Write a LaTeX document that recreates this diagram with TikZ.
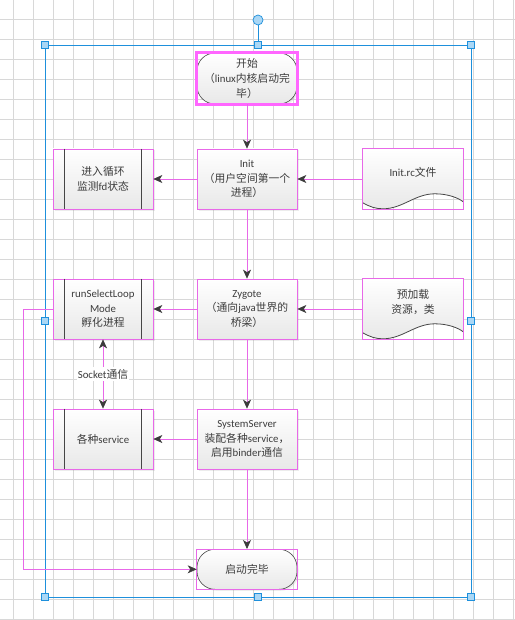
\documentclass[tikz,border=0pt]{standalone}
\usepackage{fontspec}
\setmainfont{Noto Sans CJK SC}
\newfontfamily\latf{Carlito}
\newcommand\lat[1]{{\latf #1}}
\usetikzlibrary{arrows.meta,shadows,calc}
\definecolor{selm}{RGB}{232,104,232}
\definecolor{selbright}{RGB}{255,102,255}
\definecolor{gridc}{RGB}{216,216,216}
\definecolor{txt}{RGB}{60,60,60}
\definecolor{tipc}{RGB}{60,60,60}
\definecolor{selblue}{RGB}{30,144,220}
\definecolor{handlef}{RGB}{170,215,245}
\definecolor{shapeline}{RGB}{70,70,70}
\begin{document}
\begin{tikzpicture}[x=1bp,y=-1bp,
  every node/.style={font=\fontsize{10.8bp}{14.7bp}\selectfont, text=txt, align=center, inner sep=0pt},
  shadowed/.style={drop shadow={shadow xshift=1.5bp,shadow yshift=-1.5bp,opacity=0.15}},
  box/.style={minimum width=100bp, minimum height=60bp, draw=selm, line width=0.7bp,
    top color=white, bottom color=black!9, shadowed},
  term/.style={minimum width=100bp, rounded corners=18bp, draw=shapeline, line width=0.6bp,
    top color=white, bottom color=black!9, shadowed},
  docbox/.style={minimum width=100bp, minimum height=60bp},
  tipx/.tip={Stealth[length=9bp,width=8bp,inset=2.5bp,color=tipc]},
  conn/.style={draw=selm, line width=0.7bp, -tipx},
  dconn/.style={draw=selm, line width=0.7bp, tipx-tipx},
  gridl/.style={draw=gridc, line width=0.55bp},
  selline/.style={draw=selblue, line width=0.8bp},
  handle/.style={draw=selblue, fill=handlef, line width=0.7bp}
]
\useasboundingbox (0,0) rectangle (515,620);
\fill[white] (0,0) rectangle (515,620);
% grid
\foreach \k in {0,...,25} \draw[gridl] (13.3+20*\k,0) -- (13.3+20*\k,620);
\foreach \k in {0,...,30} \draw[gridl] (0,19.3+20*\k) -- (515,19.3+20*\k);
% selection box
\draw[selline] (45,45) rectangle (471,597);
\draw[selline] (258,25) -- (258,45);

% nodes
\node[term, minimum height=51bp] (start) at (247,78.5) {开始\\（\lat{linux}内核启动完\\毕）};
\node[box] (init) at (247,179) {\lat{Init}\\（用户空间第一个\\进程）};
\node[box] (loop1) at (103,179) {进入循环\\监测\lat{fd}状态};
\node[docbox] (rc) at (413,179) {};
\node[box] (zyg) at (247,309) {\lat{Zygote}\\（通向\lat{java}世界的\\桥梁）};
\node[box] (rsl) at (103,309) {\lat{runSelectLoop}\\\lat{Mode}\\孵化进程};
\node[docbox] (pre) at (413,309) {};
\node[box] (ss) at (247,439) {\lat{SystemServer}\\装配各种\lat{service}，\\启用\lat{binder}通信};
\node[box] (svc) at (103,439) {各种\lat{service}};
\node[term, minimum height=40bp] (end) at (247,569.3) {启动完毕};

% document shapes
\foreach \d in {rc,pre}{
  \shade[top color=white,bottom color=black!9]
    (\d.north west) -- (\d.north east) -- ($(\d.north east)+(0,53)$)
    .. controls +(-5,-4) and +(13,0) .. ($(\d.north west)+(72,45)$)
    .. controls +(-20,0) and +(20,0) .. ($(\d.north west)+(20,60)$)
    .. controls +(-7,0) and +(7,4) .. ($(\d.north west)+(0,54)$) -- cycle;
  \draw[shapeline, line width=0.8bp] ($(\d.north east)+(0,53)$)
    .. controls +(-5,-4) and +(13,0) .. ($(\d.north west)+(72,45)$)
    .. controls +(-20,0) and +(20,0) .. ($(\d.north west)+(20,60)$)
    .. controls +(-7,0) and +(7,4) .. ($(\d.north west)+(0,54)$);
  \draw[selm, line width=0.7bp] (\d.north west) rectangle (\d.south east);
}
\node (rct) at ($(rc.north)+(0,24)$) {\lat{Init.rc}文件};
\node (pret) at ($(pre.north)+(0,23)$) {预加载\\资源，类};

% subprocess bars
\foreach \n in {loop1,rsl,svc}{
  \draw[shapeline, line width=0.9bp] ([xshift=12bp]\n.north west) -- ([xshift=12bp]\n.south west);
  \draw[shapeline, line width=0.9bp] ([xshift=-12bp]\n.north east) -- ([xshift=-12bp]\n.south east);
}
% terminator frames
\draw[selm, line width=0.7bp] (end.north west) rectangle (end.south east);
\draw[selbright, line width=2.5bp] (start.north west) rectangle (start.south east);

% connectors
\draw[conn] (start.south) -- (init.north);
\draw[conn] (init.south) -- (zyg.north);
\draw[conn] (zyg.south) -- (ss.north);
\draw[conn] (ss.south) -- (end.north);
\draw[conn] (init.west) -- (loop1.east);
\draw[conn] (rc.west) -- (init.east);
\draw[conn] (zyg.west) -- (rsl.east);
\draw[conn] (pre.west) -- (zyg.east);
\draw[conn] (ss.west) -- (svc.east);
\draw[dconn] (rsl.south) -- (svc.north);
\node[fill=white, inner xsep=1bp, inner ysep=2bp] (sock) at ($(rsl.south)!0.5!(svc.north)$) {\lat{Socket}通信};
\coordinate (bend) at (23,309);
\draw[conn] (rsl.west) -- (bend) |- (end.west);

% handles
\draw[handle] (258,20) circle (5bp);
\foreach \p in {(45,45),(258,45),(471,45),(45,321),(471,321),(45,597),(258,597),(471,597)}
  \draw[handle] \p ++(-3.5,-3.5) rectangle ++(7,7);
\end{tikzpicture}
\end{document}
